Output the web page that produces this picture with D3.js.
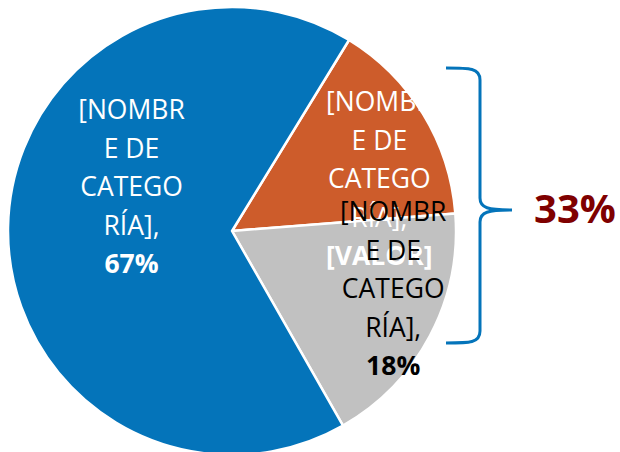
<!DOCTYPE html>
<html><head><meta charset="utf-8">
<script src="https://cdn.jsdelivr.net/npm/d3@7"></script>
<style>html,body{margin:0;padding:0;background:#fff;}svg{display:block;}</style>
</head><body>
<svg id="chart" width="620" height="452"></svg>
<script>
const categories = ["[NOMBRE DE CATEGORÍA] A", "[NOMBRE DE CATEGORÍA] B", "[NOMBRE DE CATEGORÍA] C"];
const nameLines = ["[NOMBR", "E DE", "CATEGO", "RÍA],"];
const values = [15, 18, 67];
const valueLabels = ["[VALOR]", "18%", "67%"];
const sliceColors = ["#CD5C2B", "#C1C1C1", "#0474BA"];
const labelColors = ["#ffffff", "#000000", "#ffffff"];
const groupLabel = "33%";

(function () {
const svg = d3.select("#chart");
const cx = 232, cy = 231, R = 224;
const g = svg.append("g").attr("transform", `translate(${cx},${cy})`);

const pie = d3.pie().sort(null).value(d => d)
  .startAngle(31.5 * Math.PI / 180).endAngle((31.5 + 360) * Math.PI / 180);
const arcs = pie(values);
const arc = d3.arc().innerRadius(0).outerRadius(R);

g.selectAll("path.slice").data(arcs).enter().append("path")
  .attr("class", "slice")
  .attr("d", arc)
  .attr("fill", (d, i) => sliceColors[i])
  .attr("stroke", "#fff").attr("stroke-width", 2.5).attr("stroke-linejoin", "round");

const anchors = [{a: 69.8, r: 157, dy: 1.5}, {a: 109.5, r: 171, dy: 0}, {a: 294, r: 110, dy: 0}];
const lineH = 38.5;
const font = "'Open Sans', 'Noto Sans', sans-serif";
[2, 0, 1].forEach(i => {
  const an = anchors[i];
  const rad = an.a * Math.PI / 180;
  const x = an.r * Math.sin(rad), y = -an.r * Math.cos(rad) + an.dy;
  const t = g.append("text").attr("text-anchor", "middle")
    .attr("font-family", font).attr("font-size", 26.5).attr("fill", labelColors[i]);
  const lines = nameLines.concat([valueLabels[i]]);
  lines.forEach((ln, k) => {
    t.append("tspan").attr("x", x).attr("y", y + (k - 2) * lineH)
      .attr("dominant-baseline", "central")
      .attr("font-weight", k === 4 ? "bold" : "normal")
      .text(ln);
  });
});

const bx = cx + 248, yTop = cy - 163, yBot = cy + 112, yMid = cy - 21, tipX = cx + 280, leftX = cx + 214;
const p = d3.path();
p.moveTo(leftX, yTop);
p.bezierCurveTo(bx - 10, yTop, bx, yTop, bx, yTop + 12);
p.lineTo(bx, yMid - 12);
p.bezierCurveTo(bx, yMid - 2, bx + 8, yMid, tipX, yMid);
p.bezierCurveTo(bx + 8, yMid, bx, yMid + 2, bx, yMid + 12);
p.lineTo(bx, yBot - 12);
p.bezierCurveTo(bx, yBot, bx - 10, yBot, leftX, yBot);
svg.append("path").attr("d", p.toString()).attr("fill", "none")
  .attr("stroke", "#0474BA").attr("stroke-width", 3);

svg.append("text").attr("x", tipX + 63).attr("y", yMid - 3)
  .attr("text-anchor", "middle").attr("dominant-baseline", "central")
  .attr("font-family", font).attr("font-weight", "bold").attr("font-size", 40)
  .attr("fill", "#7F0000").text(groupLabel);
})();
</script>
</body></html>
